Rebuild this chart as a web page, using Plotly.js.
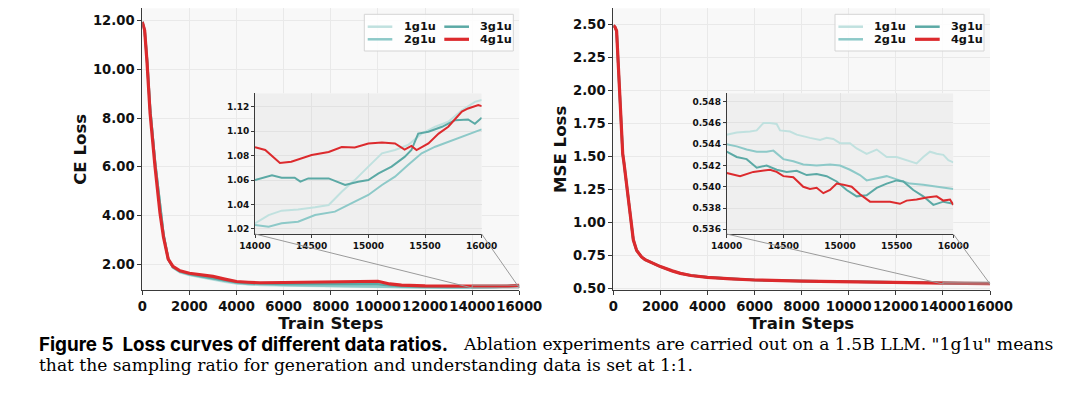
<!DOCTYPE html>
<html><head><meta charset="utf-8">
<script src="https://cdn.plot.ly/plotly-3.0.1.min.js"></script>
<style>html,body{margin:0;padding:0;background:#fff}#chart{width:1080px;height:393px}</style>
</head><body><div id="chart"></div>
<script>
// ---------------- DATA ----------------
const seriesNames = ['1g1u', '2g1u', '3g1u', '4g1u'];

// CE loss, full run (shared step grid up to the zoom window)
const ceMainSteps = [0,100,200,330,540,750,900,1100,1300,1600,2000,2500,3000,3500,4000,4500,5000,6000,7000,8000,9000,10000,10500,11000,12000,13000,13800];
const ceMain1g1u = [11.95,11.6,10.4,8.4,6.2,4.3,3.2,2.2,1.85,1.66,1.55,1.45,1.35,1.27,1.20,1.16,1.14,1.12,1.10,1.08,1.07,1.06,1.05,1.04,1.03,1.027,1.025];
const ceMain2g1u = [11.95,11.6,10.4,8.4,6.2,4.3,3.2,2.2,1.86,1.68,1.57,1.47,1.38,1.30,1.22,1.18,1.16,1.14,1.12,1.10,1.09,1.08,1.06,1.05,1.035,1.026,1.024];
const ceMain3g1u = [11.95,11.6,10.4,8.4,6.2,4.3,3.2,2.2,1.87,1.70,1.59,1.50,1.42,1.33,1.25,1.21,1.19,1.18,1.18,1.19,1.18,1.17,1.12,1.09,1.07,1.063,1.061];
const ceMain4g1u = [11.95,11.6,10.3,8.2,6.0,4.1,3.1,2.2,1.90,1.72,1.62,1.56,1.49,1.38,1.28,1.25,1.23,1.24,1.25,1.29,1.28,1.29,1.18,1.13,1.10,1.09,1.088];

// CE loss, zoom window 14000-16000
const ceZoomSteps1g1u = [14000,14120,14235,14380,14530,14650,14765,14880,15000,15120,15235,15350,15470,15590,15705,15825,15940,16000];
const ceZoomLoss1g1u  = [1.0246,1.0314,1.035,1.036,1.0377,1.0396,1.0505,1.060,1.071,1.0819,1.0846,1.0887,1.098,1.1036,1.1077,1.117,1.124,1.1255];
const ceZoomSteps2g1u = [14000,14120,14235,14380,14530,14705,14880,15000,15120,15235,15350,15470,15590,15705,15825,15940,16000];
const ceZoomLoss2g1u  = [1.0233,1.0219,1.0246,1.026,1.0314,1.0342,1.0423,1.0478,1.056,1.0628,1.0723,1.0819,1.0873,1.0914,1.0955,1.0996,1.1015];
const ceZoomSteps3g1u = [14000,14150,14235,14350,14400,14470,14650,14765,14795,14910,15000,15090,15205,15320,15380,15440,15530,15650,15765,15880,15940,16000];
const ceZoomLoss3g1u  = [1.060,1.064,1.062,1.062,1.0587,1.0614,1.0614,1.057,1.056,1.0587,1.060,1.0655,1.071,1.079,1.0846,1.098,1.0996,1.1036,1.109,1.1096,1.106,1.111];
const ceZoomSteps4g1u = [14000,14090,14220,14320,14500,14650,14765,14880,15000,15120,15235,15320,15380,15425,15530,15620,15705,15825,15880,15970,16000];
const ceZoomLoss4g1u  = [1.087,1.0846,1.074,1.075,1.0805,1.083,1.087,1.0867,1.090,1.0908,1.090,1.085,1.088,1.0846,1.090,1.098,1.1036,1.116,1.1186,1.1214,1.1205];

// MSE loss, full run (all four runs overlap up to the zoom window)
const mseMainSteps = [0,70,140,210,330,400,455,570,710,850,990,1200,1350,1600,2000,2500,2850,3300,4000,5000,6000,8000,10000,12000,13500];
const mseMainLoss  = [2.49,2.48,2.45,2.20,1.67,1.52,1.45,1.27,1.045,0.87,0.79,0.74,0.72,0.70,0.667,0.635,0.616,0.600,0.586,0.575,0.566,0.558,0.551,0.546,0.5445];

// MSE loss, zoom window 14000-16000
const mseZoomSteps1g1u = [14000,14088,14206,14265,14324,14382,14441,14471,14559,14618,14735,14824,14882,14941,15000,15088,15147,15235,15324,15412,15500,15588,15676,15735,15794,15853,15912,15956,16000];
const mseZoomLoss1g1u  = [0.5449,0.5451,0.5452,0.5453,0.5460,0.5460,0.5459,0.5453,0.5452,0.5449,0.5446,0.5444,0.5446,0.5445,0.5441,0.5441,0.5436,0.5431,0.5435,0.5428,0.5428,0.5425,0.5422,0.5428,0.5433,0.5431,0.5430,0.5425,0.5423];
const mseZoomSteps2g1u = [14000,14088,14176,14265,14353,14412,14500,14588,14676,14794,14912,15000,15088,15176,15235,15324,15412,15500,15618,15735,15853,16000];
const mseZoomLoss2g1u  = [0.5440,0.5438,0.5435,0.5433,0.5433,0.5434,0.5426,0.5424,0.5421,0.5420,0.5421,0.5420,0.5416,0.5411,0.5406,0.5408,0.5410,0.5407,0.5403,0.5402,0.5400,0.5398];
const mseZoomSteps3g1u = [14000,14088,14176,14265,14353,14441,14529,14618,14706,14794,14882,14971,15059,15147,15235,15324,15412,15500,15559,15647,15735,15824,15912,16000];
const mseZoomLoss3g1u  = [0.5433,0.5428,0.5426,0.5418,0.5420,0.5416,0.5414,0.5415,0.5411,0.5412,0.5410,0.5405,0.5397,0.5391,0.5392,0.5399,0.5403,0.5406,0.5405,0.5397,0.5391,0.5383,0.5386,0.5384];
const mseZoomSteps4g1u = [14000,14118,14235,14353,14382,14441,14500,14588,14676,14735,14794,14853,14912,14971,15029,15103,15176,15265,15353,15441,15529,15588,15676,15765,15853,15912,15971,16000];
const mseZoomLoss4g1u  = [0.5413,0.5410,0.5414,0.5416,0.5416,0.5414,0.5410,0.5409,0.5400,0.5398,0.5399,0.5394,0.5397,0.5403,0.5402,0.5400,0.5393,0.5386,0.5386,0.5386,0.5384,0.5387,0.5388,0.5390,0.5391,0.5387,0.5388,0.5383];

// tick labels / axis values
const mainStepTicks = [0,2000,4000,6000,8000,10000,12000,14000,16000];
const zoomStepTicks = [14000,14500,15000,15500,16000];
const ceMainTicks = [2,4,6,8,10,12];
const ceZoomTicks = [1.02,1.04,1.06,1.08,1.10,1.12];
const mseMainTicks = [0.5,0.75,1.0,1.25,1.5,1.75,2.0,2.25,2.5];
const mseZoomTicks = [0.536,0.538,0.540,0.542,0.544,0.546,0.548];

const captionBold = 'Figure 5&nbsp; Loss curves of different data ratios.';
const captionLine1 = 'Ablation experiments are carried out on a 1.5B LLM. "1g1u" means';
const captionLine2 = 'that the sampling ratio for generation and understanding data is set at 1:1.';

// ---------------- STYLE / GEOMETRY ----------------
const W = 1080, H = 393;
const colors = {'1g1u':'#c0e1df','2g1u':'#8dc9c8','3g1u':'#5ba9a5','4g1u':'#dc2a2d'};
const mainWidth = {'1g1u':2.5,'2g1u':2.5,'3g1u':2.5,'4g1u':3.2};
const zoomWidth = {'1g1u':2,'2g1u':2,'3g1u':2,'4g1u':2};
const P1 = {l:142.3, r:519.3, t:8.3, b:290.3};
const P2 = {l:613.3, r:990, t:8.3, b:290.3};
const I1 = {l:255, r:481.7, t:93.3, b:234};
const I2 = {l:726.7, r:953.3, t:93.3, b:234};
const stepRange = [0,16000], zoomRange = [14000,16000];
const ceRange = [0.919,12.51], ceZoomRange = [1.0159,1.131];
const mseRange = [0.488,2.621], mseZoomRange = [0.53556,0.54879];

const FONT = 'DejaVu Sans';
const dom = (p) => ({x:[p.l/W, p.r/W], y:[1-p.b/H, 1-p.t/H]});
const mapX = (p, r, v) => (p.l + (v-r[0])/(r[1]-r[0])*(p.r-p.l))/W;
const mapY = (p, r, v) => 1 - (p.b - (v-r[0])/(r[1]-r[0])*(p.b-p.t))/H;

const ceMain = {'1g1u':ceMain1g1u,'2g1u':ceMain2g1u,'3g1u':ceMain3g1u,'4g1u':ceMain4g1u};
const ceZoomX = {'1g1u':ceZoomSteps1g1u,'2g1u':ceZoomSteps2g1u,'3g1u':ceZoomSteps3g1u,'4g1u':ceZoomSteps4g1u};
const ceZoomY = {'1g1u':ceZoomLoss1g1u,'2g1u':ceZoomLoss2g1u,'3g1u':ceZoomLoss3g1u,'4g1u':ceZoomLoss4g1u};
const mseZoomX = {'1g1u':mseZoomSteps1g1u,'2g1u':mseZoomSteps2g1u,'3g1u':mseZoomSteps3g1u,'4g1u':mseZoomSteps4g1u};
const mseZoomY = {'1g1u':mseZoomLoss1g1u,'2g1u':mseZoomLoss2g1u,'3g1u':mseZoomLoss3g1u,'4g1u':mseZoomLoss4g1u};

const traces = [];
seriesNames.forEach(s => {
  traces.push({x: ceMainSteps.concat(ceZoomX[s]), y: ceMain[s].concat(ceZoomY[s]), xaxis:'x', yaxis:'y',
    type:'scatter', mode:'lines', name:s, showlegend:false, line:{color:colors[s], width:mainWidth[s]}});
});
seriesNames.forEach(s => {
  traces.push({x: mseMainSteps.concat(mseZoomX[s]), y: mseMainLoss.concat(mseZoomY[s]), xaxis:'x2', yaxis:'y2',
    type:'scatter', mode:'lines', name:s, showlegend:false, line:{color:colors[s], width:mainWidth[s]}});
});
seriesNames.forEach(s => {
  traces.push({x: ceZoomX[s], y: ceZoomY[s], xaxis:'x3', yaxis:'y3',
    type:'scatter', mode:'lines', name:s, showlegend:false, line:{color:colors[s], width:zoomWidth[s]}});
});
seriesNames.forEach(s => {
  traces.push({x: mseZoomX[s], y: mseZoomY[s], xaxis:'x4', yaxis:'y4',
    type:'scatter', mode:'lines', name:s, showlegend:false, line:{color:colors[s], width:zoomWidth[s]}});
});

const tickFont = {family:FONT, size:13.2, weight:700, color:'#111'};
const zoomTickFont = {family:FONT, size:9, weight:700, color:'#111'};
const titleFont = {family:FONT, size:16.6, weight:700, color:'#111'};

function mainX(p, anchor) {
  return {domain: dom(p).x, anchor, range: stepRange, tickvals: mainStepTicks, tickformat:'d', tickangle:0,
    showline:true, linecolor:'#3a3a3a', linewidth:1, ticks:'outside', ticklen:4, tickcolor:'#3a3a3a',
    showgrid:true, gridcolor:'#e9e9e9', zeroline:false, tickfont:tickFont,
    title:{text:'Train Steps', font:titleFont, standoff:1}};
}
function mainY(p, anchor, range, ticks, fmt, title) {
  return {domain: dom(p).y, anchor, range, tickvals: ticks, tickformat: fmt, tickangle:0,
    showline:true, linecolor:'#3a3a3a', linewidth:1, ticks:'outside', ticklen:4, tickcolor:'#3a3a3a',
    showgrid:true, gridcolor:'#e9e9e9', zeroline:false, tickfont:tickFont,
    title:{text:title, font:titleFont, standoff:2}};
}
function zoomX(p, anchor) {
  return {domain: dom(p).x, anchor, range: zoomRange, tickvals: zoomStepTicks, tickformat:'d', tickangle:0,
    showline:true, linecolor:'#3a3a3a', linewidth:1, ticks:'outside', ticklen:3, tickcolor:'#3a3a3a',
    showgrid:true, gridcolor:'#e2e2e2', zeroline:false, tickfont:zoomTickFont};
}
function zoomY(p, anchor, range, ticks, fmt) {
  return {domain: dom(p).y, anchor, range, tickvals: ticks, tickformat: fmt, tickangle:0,
    showline:true, linecolor:'#3a3a3a', linewidth:1, ticks:'outside', ticklen:3, tickcolor:'#3a3a3a',
    showgrid:true, gridcolor:'#e2e2e2', zeroline:false, tickfont:zoomTickFont};
}

const shapes = [];
const annotations = [];
// inset backgrounds + zoom markers + connectors
[[I1,P1,'x3','y3','x','y',ceZoomRange,ceRange],[I2,P2,'x4','y4','x2','y2',mseZoomRange,mseRange]].forEach(([I,P,xi,yi,xm,ym,zr,mr]) => {
  shapes.push({type:'rect', xref:xi, yref:yi, x0:zoomRange[0], x1:zoomRange[1], y0:zr[0], y1:zr[1],
    fillcolor:'#efefef', line:{width:0}, layer:'below'});
  shapes.push({type:'rect', xref:xm, yref:ym, x0:zoomRange[0], x1:zoomRange[1], y0:zr[0], y1:zr[1],
    line:{color:'#9a9a9a', width:1}, layer:'above'});
  shapes.push({type:'line', xref:'paper', yref:'paper', x0:I.l/W, y0:1-I.b/H,
    x1:mapX(P, stepRange, zoomRange[0]), y1:mapY(P, mr, zr[0]), line:{color:'#9a9a9a', width:1}, layer:'above'});
  shapes.push({type:'line', xref:'paper', yref:'paper', x0:I.r/W, y0:1-I.b/H,
    x1:mapX(P, stepRange, zoomRange[1]), y1:mapY(P, mr, zr[0]), line:{color:'#9a9a9a', width:1}, layer:'above'});
});

// legends (2 columns, drawn as shapes + text)
const legendCols = [['1g1u','2g1u'],['3g1u','4g1u']];
[P1,P2].forEach(P => {
  const bx0 = P.r - 155, bx1 = P.r - 6, by0 = P.t + 6, by1 = P.t + 42.7;
  shapes.push({type:'rect', xref:'paper', yref:'paper', x0:bx0/W, x1:bx1/W, y0:1-by1/H, y1:1-by0/H,
    fillcolor:'rgba(255,255,255,0.85)', line:{color:'#d4d4d4', width:1}, layer:'above'});
  const colLine = [[3.4,28],[80,104.7]], colText = [37.4,114];
  const rowY = [P.t + 18.4, P.t + 31];
  legendCols.forEach((col, ci) => {
    col.forEach((s, ri) => {
      shapes.push({type:'line', xref:'paper', yref:'paper', x0:(bx0+colLine[ci][0])/W, x1:(bx0+colLine[ci][1])/W,
        y0:1-rowY[ri]/H, y1:1-rowY[ri]/H, line:{color:colors[s], width:mainWidth[s]}, layer:'above'});
      annotations.push({xref:'paper', yref:'paper', x:(bx0+colText[ci])/W, y:1-rowY[ri]/H, xanchor:'left', yanchor:'middle',
        text:s, showarrow:false, font:{family:FONT, size:11.3, weight:700, color:'#111'}});
    });
  });
});

// caption
annotations.push({xref:'paper', yref:'paper', x:37/W, y:1-344/H, xanchor:'left', yanchor:'middle', showarrow:false,
  text:captionBold, font:{family:'Inter', size:18.8, weight:700, color:'#000'}});
annotations.push({xref:'paper', yref:'paper', x:1055/W, y:1-344/H, xanchor:'right', yanchor:'middle', showarrow:false,
  text:captionLine1, font:{family:'DejaVu Serif', size:17.2, color:'#000'}});
annotations.push({xref:'paper', yref:'paper', x:37/W, y:1-365/H, xanchor:'left', yanchor:'middle', showarrow:false,
  text:captionLine2, font:{family:'DejaVu Serif', size:17.1, color:'#000'}});

const layout = {
  width:W, height:H, margin:{l:0,r:0,t:0,b:0}, paper_bgcolor:'#ffffff', plot_bgcolor:'#f8f8f8',
  showlegend:false,
  xaxis: mainX(P1,'y'), yaxis: mainY(P1,'x',ceRange,ceMainTicks,'.2f','CE Loss'),
  xaxis2: mainX(P2,'y2'), yaxis2: mainY(P2,'x2',mseRange,mseMainTicks,'.2f','MSE Loss'),
  xaxis3: zoomX(I1,'y3'), yaxis3: zoomY(I1,'x3',ceZoomRange,ceZoomTicks,'.2f'),
  xaxis4: zoomX(I2,'y4'), yaxis4: zoomY(I2,'x4',mseZoomRange,mseZoomTicks,'.3f'),
  shapes, annotations
};
Plotly.newPlot('chart', traces, layout, {displayModeBar:false, staticPlot:true});
</script></body></html>
